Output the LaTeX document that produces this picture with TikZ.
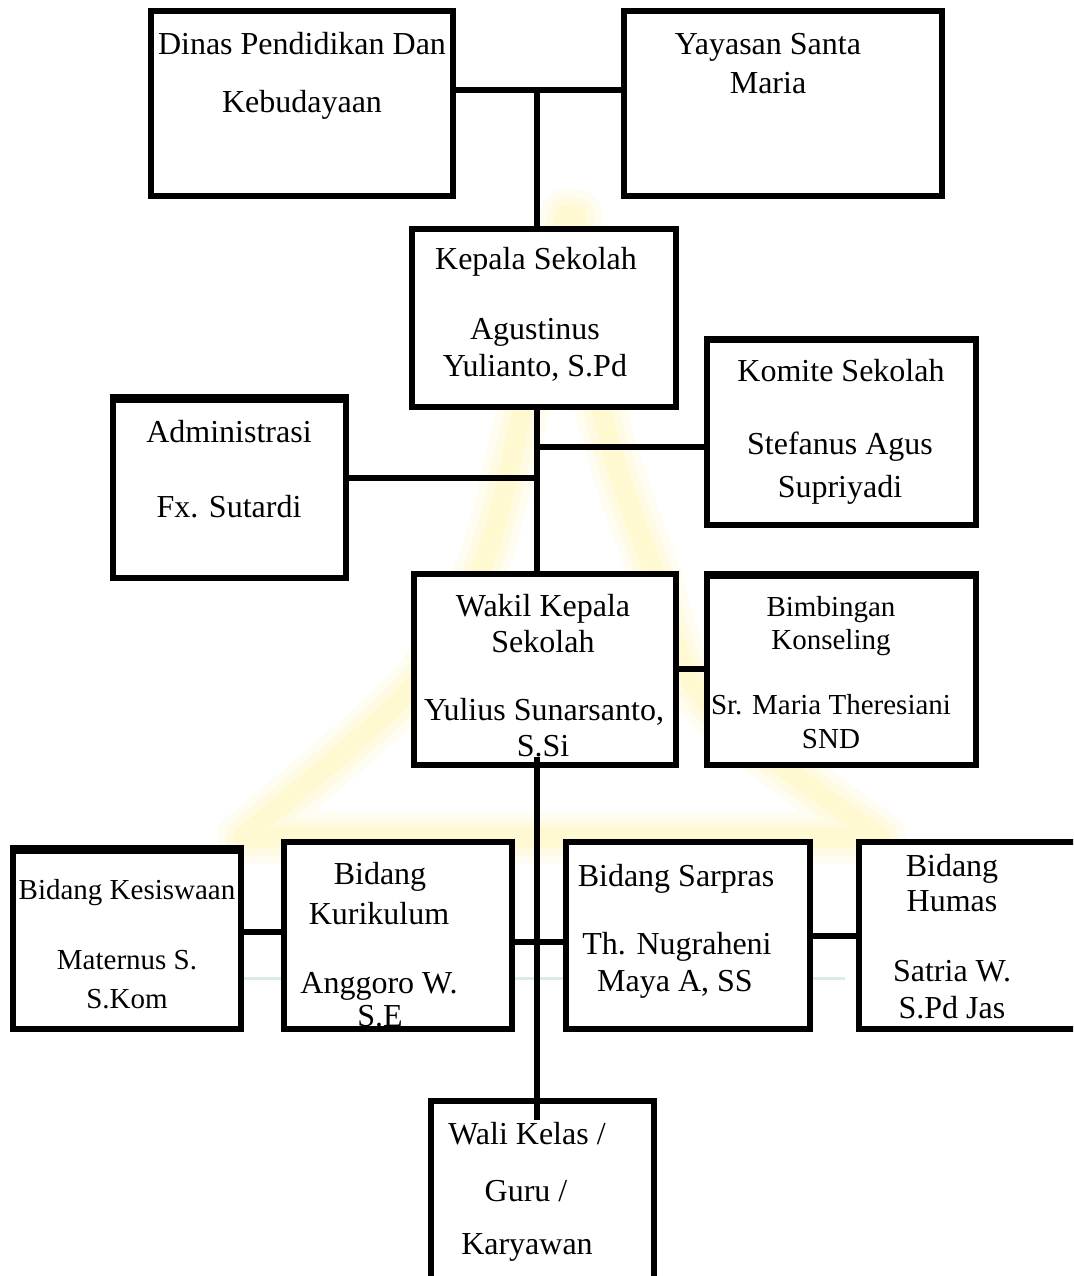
\documentclass[tikz,border=0pt]{standalone}
\usepackage{fontspec}
\setmainfont{Liberation Serif}
\usetikzlibrary{fit,calc}
\definecolor{wmyellow}{RGB}{255,240,120}
\definecolor{wmgreen}{RGB}{205,228,212}
\begin{document}
\begin{tikzpicture}[x=0.5pt,y=-0.5pt,
  box/.style={draw=black, line width=3.25pt, fill=white, inner sep=0pt, line join=miter},
  link/.style={draw=black, line width=3.25pt},
  lbl/.style={anchor=base, inner sep=0pt, font=\fontsize{16}{18}\selectfont},
  slbl/.style={anchor=base, inner sep=0pt, font=\fontsize{14.5}{16.5}\selectfont},
  band/.style={fill=black},
  wm/.style={wmyellow, line join=round, line cap=round}]
\useasboundingbox (0,0) rectangle (1073,1276);
\clip (0,0) rectangle (1073,1276);
\fill[white] (0,0) rectangle (1073,1276);
% faint watermark
\foreach \w/\o in {26/0.10, 18/0.12, 10/0.15} {
  \draw[wm, opacity=\o, line width=\w pt]
    plot[smooth] coordinates {(243,837) (410,690) (482,567) (522,413) (566,215)}
    -- plot[smooth] coordinates {(576,215) (602,413) (652,567) (705,700) (880,837)}
    -- cycle;
}
\draw[wmgreen, opacity=0.7, line width=1.5pt] (233,978) -- (845,978);
% boxes
\node[box, fit={(151,11) (453,196)}] (dinas) {};
\node[box, fit={(624,11) (942,196)}] (yayasan) {};
\node[box, fit={(412,229) (676,407)}] (kepala) {};
\node[box, fit={(707,339) (976,525)}] (komite) {};
\node[box, fit={(113,397) (346,578)}] (admin) {};
\node[box, fit={(414,574) (676,765)}] (wakil) {};
\node[box, fit={(707,574) (976,765)}] (bimb) {};
\node[box, fit={(13,848) (241,1029)}] (kesis) {};
\node[box, fit={(284,842) (512,1029)}] (kurik) {};
\node[box, fit={(566,842) (810,1029)}] (sarpras) {};
\node[box, fit={(859,842) (1085,1029)}] (humas) {};
\node[box, fit={(431,1101) (654,1300)}] (wali) {};
% thicker top edges
\fill[band] (admin.north west) rectangle ([yshift=-4.5pt]admin.north east);
\fill[band] (bimb.north west) rectangle ([yshift=-4pt]bimb.north east);
\fill[band] (kesis.north west) rectangle ([yshift=-4.5pt]kesis.north east);
\fill[band] (komite.north west) rectangle ([yshift=-3.5pt]komite.north east);
% junction points
\coordinate (j1) at (537,90);
\coordinate (j2) at (537,447);
\coordinate (j3) at (537,478);
\coordinate (j4) at (690,669);
\coordinate (j5) at (537,757);
\coordinate (j6) at (537,1120);
\coordinate (j7) at (262,932);
\coordinate (j8) at (537,942);
\coordinate (j9) at (834,936);
% connectors
\draw[link] (dinas.east |- j1) -- (yayasan.west |- j1);
\draw[link] (j1) -- (kepala.north -| j1);
\draw[link] (kepala.south -| j1) -- (wakil.north -| j1);
\draw[link] (j2) -- (komite.west |- j2);
\draw[link] (admin.east |- j3) -- (j3);
\draw[link] (wakil.east |- j4) -- (bimb.west |- j4);
\draw[link] (j5) -- (j6);
\draw[link] (kesis.east |- j7) -- (kurik.west |- j7);
\draw[link] (kurik.east |- j8) -- (sarpras.west |- j8);
\draw[link] (sarpras.east |- j9) -- (humas.west |- j9);
% texts
\node[lbl] (t1) at (302,54) {Dinas Pendidikan Dan};
\node[lbl] (t2) at (302,112) {Kebudayaan};
\node[lbl] (t3) at (768,54) {Yayasan Santa};
\node[lbl] (t4) at (768,93) {Maria};
\node[lbl] (t5) at (536,269) {Kepala Sekolah};
\node[lbl] (t6) at (535,339) {Agustinus};
\node[lbl] (t7) at (535,376) {Yulianto, S.Pd};
\node[lbl] (t8) at (841,381) {Komite Sekolah};
\node[lbl] (t9) at (840,454) {Stefanus Agus};
\node[lbl] (t10) at (840,497) {Supriyadi};
\node[lbl] (t11) at (229,442) {Administrasi};
\node[lbl] (t12) at (229,517) {Fx. Sutardi};
\node[lbl] (t13) at (543,616) {Wakil Kepala};
\node[lbl] (t14) at (543,652) {Sekolah};
\node[lbl] (t15) at (544,720) {Yulius Sunarsanto,};
\node[lbl] (t16) at (543,756) {S.Si};
\node[slbl] (t17) at (831,616) {Bimbingan};
\node[slbl] (t18) at (831,649) {Konseling};
\node[slbl] (t19) at (831,714) {Sr. Maria Theresiani};
\node[slbl] (t20) at (831,748) {SND};
\node[slbl] (t21) at (127,899) {Bidang Kesiswaan};
\node[slbl] (t22) at (127,969) {Maternus S.};
\node[slbl] (t23) at (127,1008) {S.Kom};
\node[lbl] (t24) at (380,884) {Bidang};
\node[lbl] (t25) at (379,924) {Kurikulum};
\node[lbl] (t26) at (379,993) {Anggoro W.};
\node[lbl] (t27) at (380,1026) {S.E};
\node[lbl] (t28) at (676,886) {Bidang Sarpras};
\node[lbl] (t29) at (677,954) {Th. Nugraheni};
\node[lbl] (t30) at (675,991) {Maya A, SS};
\node[lbl] (t31) at (952,876) {Bidang};
\node[lbl] (t32) at (952,911) {Humas};
\node[lbl] (t33) at (952,981) {Satria W.};
\node[lbl] (t34) at (952,1018) {S.Pd Jas};
\node[lbl] (t35) at (527,1144) {Wali Kelas /};
\node[lbl] (t36) at (526,1201) {Guru /};
\node[lbl] (t37) at (527,1254) {Karyawan};
\end{tikzpicture}
\end{document}
